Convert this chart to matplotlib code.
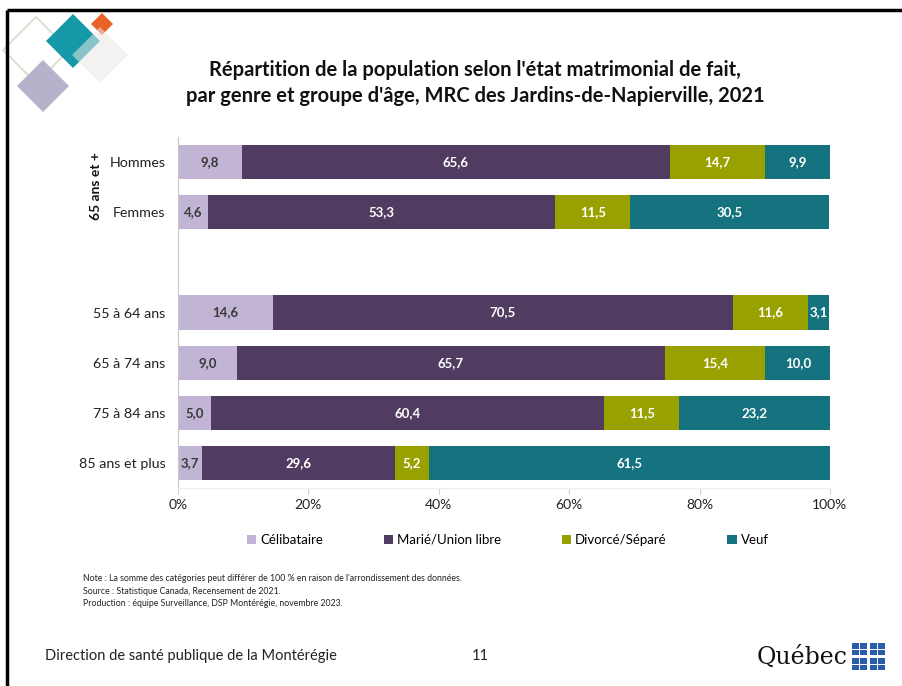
import numpy as np
import matplotlib.pyplot as plt
from matplotlib.patches import Polygon, Rectangle

# données
categories = ["Hommes", "Femmes", "", "55 à 64 ans", "65 à 74 ans", "75 à 84 ans", "85 ans et plus"]
celibataire = [9.8, 4.6, np.nan, 14.6, 9.0, 5.0, 3.7]
marie = [65.6, 53.3, np.nan, 70.5, 65.7, 60.4, 29.6]
divorce = [14.7, 11.5, np.nan, 11.6, 15.4, 11.5, 5.2]
veuf = [9.9, 30.5, np.nan, 3.1, 10.0, 23.2, 61.5]
series = ["Célibataire", "Marié/Union libre", "Divorcé/Séparé", "Veuf"]
xticks = [0, 20, 40, 60, 80, 100]

couleurs = ["#c1b4d4", "#4f3c60", "#99a100", "#14737f"]
txt_couleurs = ["#3a3a3a", "white", "white", "white"]

plt.rcParams['font.family'] = ['Lato', 'DejaVu Sans']

fig = plt.figure(figsize=(9.02, 6.86), dpi=100)

# décor de la diapositive (coordonnées en pixels)
deco = fig.add_axes([0, 0, 1, 1])
deco.set_xlim(0, 902)
deco.set_ylim(686, 0)
deco.axis("off")

def losange(cx, cy, r, **kw):
    deco.add_patch(Polygon([(cx, cy - r), (cx + r, cy), (cx, cy + r), (cx - r, cy)],
                           closed=True, joinstyle="round", **kw))

losange(36, 50, 33, facecolor="none", edgecolor="#d6dccb", lw=1.2)
losange(43, 86, 26, facecolor="#b7b1cc", edgecolor="none")
losange(73, 41, 27, facecolor="#1598a7", edgecolor="none")
losange(102, 24, 11, facecolor="#e8622a", edgecolor="none")
losange(100, 55, 28, facecolor="#ebe8e5", edgecolor="none", alpha=0.55)

deco.plot([7, 902], [10, 10], color="black", lw=2.5, solid_capstyle="butt")
deco.plot([7, 7], [10, 686], color="black", lw=2.5, solid_capstyle="butt")

deco.text(45, 656, "Direction de santé publique de la Montérégie", fontsize=10.5,
          color="#222222", va="center", ha="left")
deco.text(480, 656, "11", fontsize=10.5, color="#222222", va="center", ha="center")
deco.text(847, 657, "Québec", fontsize=17, family="DejaVu Serif", color="#111111",
          va="center", ha="right")
for (fx, fy) in [(859, 649), (877, 649), (859, 664), (877, 664)]:
    deco.add_patch(Rectangle((fx - 7.5, fy - 6), 15, 12, facecolor="#2a5da8", edgecolor="none"))
    deco.plot([fx - 7.5, fx + 7.5], [fy, fy], color="white", lw=0.7)
    deco.plot([fx, fx], [fy - 6, fy + 6], color="white", lw=0.7)

deco.text(475, 70, "Répartition de la population selon l'état matrimonial de fait,",
          fontsize=14.5, fontweight="bold", ha="center", va="center", color="#111111")
deco.text(475, 96, "par genre et groupe d'âge, MRC des Jardins-de-Napierville, 2021",
          fontsize=14.5, fontweight="bold", ha="center", va="center", color="#111111")

notes = ("Note : La somme des catégories peut différer de 100 % en raison de l'arrondissement des données.\n"
         "Source : Statistique Canada, Recensement de 2021.\n"
         "Production : équipe Surveillance, DSP Montérégie, novembre 2023.")
deco.text(83, 574, notes, fontsize=6.3, ha="left", va="top", linespacing=1.5, color="#222222")

deco.text(96, 186, "65 ans et +", rotation=90, fontsize=10, fontweight="bold",
          ha="center", va="center", color="#111111")

# graphique
ax = fig.add_axes([0.1973, 0.2886, 0.7228, 0.5117])
y = np.arange(len(categories))
gauche = np.zeros(len(categories))
data = [celibataire, marie, divorce, veuf]
handles = []
for vals, nom, c, tc in zip(data, series, couleurs, txt_couleurs):
    v = np.array(vals, dtype=float)
    b = ax.barh(y, np.nan_to_num(v), left=gauche, height=0.68, color=c, label=nom)
    handles.append(b)
    for yi, (g, val) in enumerate(zip(gauche, v)):
        if not np.isnan(val):
            ax.text(g + val / 2, yi, f"{val:.1f}".replace(".", ","), ha="center", va="center",
                    fontsize=9.5, fontweight="bold", color=tc)
    gauche = gauche + np.nan_to_num(v)

ax.set_xlim(0, 100)
ax.set_ylim(len(categories) - 0.5, -0.5)
ax.set_yticks(y)
ax.set_yticklabels(categories, fontsize=10.3, color="#222222")
ax.tick_params(axis="y", length=0, pad=9)
ax.set_xticks(xticks)
ax.set_xticklabels([f"{t}%" for t in xticks], fontsize=10, color="#222222")
ax.tick_params(axis="x", length=4, color="#d0d0d0", pad=4)
for s in ["top", "right"]:
    ax.spines[s].set_visible(False)
ax.spines["left"].set_color("#c8c8c8")
ax.spines["bottom"].set_color("#ececec")
ax.set_facecolor("none")

fig.legend(handles=handles, loc="center", bbox_to_anchor=(0.563, 0.213), ncol=4,
           frameon=False, fontsize=9.5, handlelength=0.7, handleheight=0.7,
           handletextpad=0.3, columnspacing=4.6)

fig.savefig("out.png", dpi=100)
